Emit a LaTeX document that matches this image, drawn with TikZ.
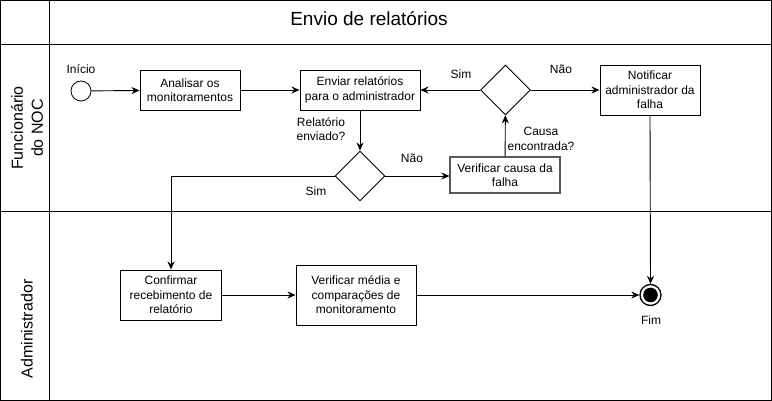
\documentclass[tikz,border=0pt]{standalone}
\usepackage{fontspec}
\setmainfont{Liberation Sans}
\usetikzlibrary{shapes.geometric,arrows.meta}
\begin{document}
\begin{tikzpicture}[x=1pt,y=-1pt,
  every node/.style={font=\fontsize{12}{14.5}\selectfont, inner sep=0pt},
  box/.style={draw, line width=0.9pt, fill=white, align=center},
  dec/.style={draw, line width=0.9pt, diamond, minimum width=50pt, minimum height=50pt, aspect=1, fill=white},
  lbl/.style={align=center},
  flow/.style={line width=0.9pt, -{Stealth[length=8pt,width=7pt,inset=2.5pt]}},
  lane/.style={line width=1pt},
  lanelbl/.style={font=\fontsize{16}{20}\selectfont, rotate=90, align=center}]
\useasboundingbox (0,0) rectangle (772,401);
\fill[white] (0,0) rectangle (772,401);
% pool frame
\draw[lane] (0.5,0.5) rectangle (771.2,400.3);
\draw[lane] (0.5,45) -- (771.2,45);
\draw[lane] (49.5,0.5) -- (49.5,400.3);
\draw[lane] (0.5,211.5) -- (771.2,211.5);
\node[font=\fontsize{19}{22}\selectfont] (title) at (369,19) {Envio de relatórios};
\node[lanelbl] (lane1) at (27,128) {Funcionário\\do NOC};
\node[lanelbl] (lane2) at (27,329) {Administrador};
% nodes
\node[draw, circle, line width=0.8pt, minimum size=20pt, fill=white] (start) at (81,91) {};
\node[lbl] (startl) at (81,69) {Início};
\node[box, minimum width=100pt, minimum height=40pt] (anal) at (190,90) {Analisar os\\monitoramentos};
\node[box, minimum width=120pt, minimum height=40pt] (env) at (360,90) {Enviar relatórios\\para o administrador};
\node[dec] (d1) at (360,176) {};
\node[dec] (d2) at (505.5,90) {};
\node[box, minimum width=100pt, minimum height=50pt] (notif) at (650,90) {Notificar\\administrador da\\falha};
\node[box, draw=black!65, line width=1.2pt, minimum width=110pt, minimum height=36pt] (vcausa) at (505,175) {Verificar causa da\\falha};
\node[box, minimum width=101pt, minimum height=50pt] (conf) at (171,295) {Confirmar\\recebimento de\\relatório};
\node[box, minimum width=120pt, minimum height=60pt] (vmed) at (356,295) {Verificar média e\\comparações de\\monitoramento};
\node[draw, circle, line width=1.3pt, minimum size=21pt] (fim) at (650.5,295) {};
\fill (fim.center) circle (7.3);
\node[lbl] (fiml) at (651,320) {Fim};
% labels
\node[lbl] (l1) at (321,129) {Relatório\\enviado?};
\node[lbl] (l2) at (412,158) {Não};
\node[lbl] (l3) at (316,191) {Sim};
\node[lbl] (l4) at (461,74) {Sim};
\node[lbl] (l5) at (561,69) {Não};
\node[lbl] (l6) at (541,139) {Causa\\encontrada?};
% edges
\draw[flow] (start) -- (anal);
\draw[flow] (anal) -- (env);
\draw[flow] (env) -- (d1);
\draw[flow] (d1.east) -- (d1.east -| vcausa.west);
\draw[flow] (vcausa) -- (d2);
\draw[flow] (d2) -- (env);
\draw[flow] (d2) -- (notif);
\draw[flow] (d1.west) -| (conf.north);
\draw[flow] (conf) -- (vmed);
\draw[flow] (vmed.east) -- (fim.west);
\draw[flow] (notif.south) -- (fim.north);
\end{tikzpicture}
\end{document}
